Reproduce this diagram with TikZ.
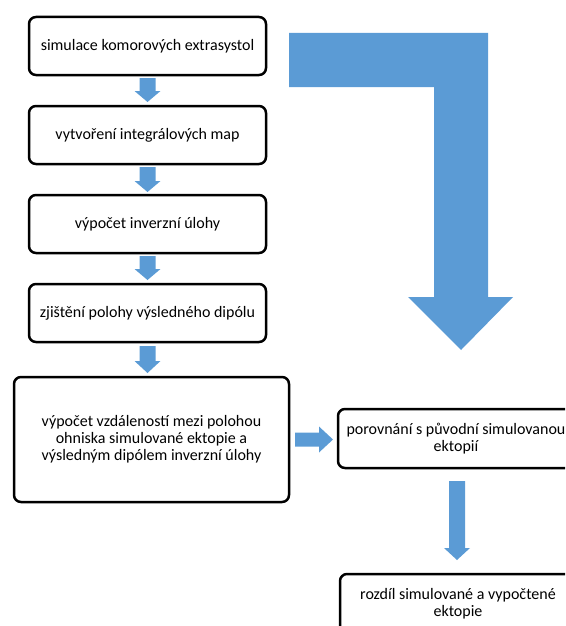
\documentclass[tikz,border=0pt]{standalone}
\usepackage{fontspec}
\setmainfont{Carlito}
\usetikzlibrary{calc}
\definecolor{arrowblue}{HTML}{5B9BD5}
\tikzset{
  box/.style={draw=black, line width=2.5pt, rounded corners=7pt, fill=white,
    inner sep=0pt, outer sep=0pt, align=center,
    font=\fontsize{16}{17.2}\selectfont},
}
% vertical block arrow from #1 down to #2, shaft half width #3, head half width #4, head length #5
\newcommand\downblock[5]{%
  \fill[arrowblue] let \p1=(#1), \p2=(#2) in
    (\x1-#3,\y1) -- (\x1+#3,\y1) -- (\x1+#3,\y2+#5) -- (\x1+#4,\y2+#5) --
    (\x1,\y2) -- (\x1-#4,\y2+#5) -- (\x1-#3,\y2+#5) -- cycle;}
\begin{document}
\begin{tikzpicture}[x=1pt,y=-1pt]
\useasboundingbox (0,0) rectangle (565,626);
\clip (0,0) rectangle (565,626);

% bent arrow
\fill[arrowblue] (289,33) -- (488,33) -- (488,297) -- (513,297) -- (461,350)
  -- (408,297) -- (434,297) -- (434,87) -- (289,87) -- cycle;

\node[box, minimum width=237pt, minimum height=58pt] (b1) at (147.5,46) {simulace komorových extrasystol};
\node[box, minimum width=237pt, minimum height=58pt] (b2) at (147.5,135) {vytvoření integrálových map};
\node[box, minimum width=237pt, minimum height=58pt] (b3) at (147.5,224) {výpočet inverzní úlohy};
\node[box, minimum width=237pt, minimum height=58pt] (b4) at (147.5,313) {zjištění polohy výsledného dipólu};
\node[box, minimum width=275pt, minimum height=125pt] (b5) at (151.5,439.5)
  {výpočet vzdáleností mezi polohou\\ohniska simulované ektopie a\\výsledným dipólem inverzní úlohy};
\node[box, minimum width=236pt, minimum height=59pt] (b6) at (456,438.5)
  {porovnání s původní simulovanou\\ektopií};
\node[box, minimum width=236pt, minimum height=60pt] (b7) at (458,604)
  {rozdíl simulované a vypočtené\\ektopie};

\coordinate (a1s) at ($(b1.south)+(0,3)$);
\coordinate (a1e) at ($(b2.north)+(0,-4)$);
\coordinate (a2s) at ($(b2.south)+(0,3)$);
\coordinate (a2e) at ($(b3.north)+(0,-3)$);
\coordinate (a3s) at ($(b3.south)+(0,3)$);
\coordinate (a3e) at ($(b4.north)+(0,-4)$);
\coordinate (a4s) at ($(b4.south)+(0,4)$);
\coordinate (a4e) at ($(b5.north)+(0,-4)$);
\downblock{a1s}{a1e}{8pt}{13pt}{11pt}
\downblock{a2s}{a2e}{8pt}{13pt}{11pt}
\downblock{a3s}{a3e}{8pt}{13pt}{11pt}
\downblock{a4s}{a4e}{8pt}{13pt}{12pt}

% right arrow
\coordinate (r1s) at ($(b5.east)+(6,0)$);
\coordinate (r1e) at ($(b6.west)+(-5,0)$);
\fill[arrowblue] let \p1=(r1s), \p2=(r1e) in
  (\x1,\y1+7pt) -- (\x2-14pt,\y1+7pt) -- (\x2-14pt,\y1+13pt) -- (\x2,\y1)
  -- (\x2-14pt,\y1-13pt) -- (\x2-14pt,\y1-7pt) -- (\x1,\y1-7pt) -- cycle;

% long down arrow
\coordinate (d1s) at ($(b6.south)+(1,13)$);
\coordinate (d1e) at ($(b7.north)+(-1,-14)$);
\downblock{d1s}{d1e}{8pt}{13pt}{12pt}
\end{tikzpicture}
\end{document}
